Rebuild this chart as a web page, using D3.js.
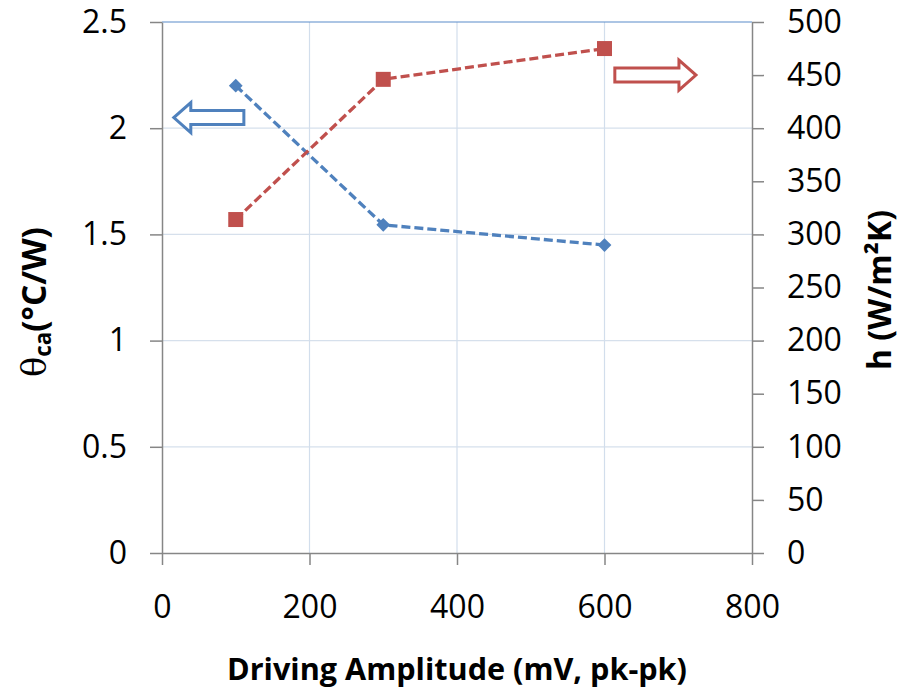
<!DOCTYPE html>
<html><head><meta charset="utf-8">
<script src="https://cdn.jsdelivr.net/npm/d3@7"></script>
<style>
html,body{margin:0;padding:0;background:#fff;}
svg{display:block;}
text{font-family:"Open Sans",sans-serif;fill:#000;}
</style></head>
<body>
<script>
// ---- data ----
const amplitudes = [100, 300, 600];            // mV pk-pk
const thetaCa = [2.2, 1.545, 1.45];            // °C/W (left axis)
const hCoef = [314, 446, 475];                 // W/m²K (right axis)
const xTicks = [0, 200, 400, 600, 800];
const yLeftTicks = [0, 0.5, 1, 1.5, 2, 2.5];
const yRightTicks = [0, 50, 100, 150, 200, 250, 300, 350, 400, 450, 500];
// arrow annotations in data units: [tailX, tipX, value]
const leftArrow = [111, 16, 2.05];
const rightArrow = [614, 724, 450];

const W = 908, H = 689;
const m = {l:162, r:752, t:22, b:553};
const blue = "#4F81BD", red = "#C0504D";

const svg = d3.select("body").append("svg").attr("width", W).attr("height", H);

const x = d3.scaleLinear().domain([0, 800]).range([m.l, m.r]);
const yL = d3.scaleLinear().domain([0, 2.5]).range([m.b, m.t]);
const yR = d3.scaleLinear().domain([0, 500]).range([m.b, m.t]);

// gridlines
const grid = svg.append("g");
grid.selectAll(".hg").data(yLeftTicks.filter(d => d > 0 && d < 2.5)).enter().append("line")
  .attr("x1", m.l).attr("x2", m.r).attr("y1", d => yL(d)).attr("y2", d => yL(d))
  .attr("stroke", "#d6e0ec").attr("stroke-width", 1.2);
grid.selectAll(".vg").data(xTicks.filter(d => d > 0 && d < 800)).enter().append("line")
  .attr("y1", m.t).attr("y2", m.b).attr("x1", d => x(d)).attr("x2", d => x(d))
  .attr("stroke", "#d2deec").attr("stroke-width", 1.2);
grid.append("line").attr("x1", m.l).attr("x2", m.r).attr("y1", yL(2.5)).attr("y2", yL(2.5))
  .attr("stroke", "#5b8cc9").attr("stroke-width", 1.2);

// axes
const fs = 32;
function styleAxis(g){
  g.select(".domain").attr("stroke", "#868686").attr("stroke-width", 1.5);
  g.selectAll(".tick line").attr("stroke", "#868686").attr("stroke-width", 1.5);
  g.selectAll(".tick text").attr("font-size", fs).attr("fill", "#000")
    .attr("font-family", "'Open Sans',sans-serif");
}
const axL = svg.append("g").attr("transform", `translate(${m.l},0)`)
  .call(d3.axisLeft(yL).tickValues(yLeftTicks).tickSize(12).tickPadding(23).tickSizeOuter(0)
    .tickFormat(d => String(d)));
styleAxis(axL);
const axR = svg.append("g").attr("transform", `translate(${m.r},0)`)
  .call(d3.axisRight(yR).tickValues(yRightTicks).tickSize(12).tickPadding(23).tickSizeOuter(0)
    .tickFormat(d => String(d)));
styleAxis(axR);
const axB = svg.append("g").attr("transform", `translate(0,${m.b})`)
  .call(d3.axisBottom(x).tickValues(xTicks).tickSize(12).tickPadding(30).tickSizeOuter(0)
    .tickFormat(d => String(d)));
styleAxis(axB);
axB.selectAll(".tick text").attr("dy", "0.71em");

// series
const lineL = d3.line().x((d, i) => x(amplitudes[i])).y(d => yL(d));
const lineR = d3.line().x((d, i) => x(amplitudes[i])).y(d => yR(d));
svg.append("path").attr("d", lineL(thetaCa)).attr("fill", "none").attr("stroke", blue)
  .attr("stroke-width", 3.3).attr("stroke-dasharray", "9,4");
svg.append("path").attr("d", lineR(hCoef)).attr("fill", "none").attr("stroke", red)
  .attr("stroke-width", 3.3).attr("stroke-dasharray", "9,4");
svg.selectAll(".dia").data(thetaCa).enter().append("path")
  .attr("d", d3.symbol().type(d3.symbolSquare).size(95))
  .attr("transform", (d, i) => `translate(${x(amplitudes[i])},${yL(d)}) rotate(45)`)
  .attr("fill", blue);
svg.selectAll(".sq").data(hCoef).enter().append("path")
  .attr("d", d3.symbol().type(d3.symbolSquare).size(225))
  .attr("transform", (d, i) => `translate(${x(amplitudes[i])},${yR(d)})`)
  .attr("fill", red);

// hollow arrows
function arrowPath(tail, tip, cy){
  const dir = Math.sign(tip - tail);
  const headLen = 17, bodyH = 7, headH = 15;
  const base = tip - dir * headLen;
  return `M${tail},${cy - bodyH} L${base},${cy - bodyH} L${base},${cy - headH} L${tip},${cy} ` +
         `L${base},${cy + headH} L${base},${cy + bodyH} L${tail},${cy + bodyH} Z`;
}
svg.append("path").attr("d", arrowPath(x(leftArrow[0]), x(leftArrow[1]), yL(leftArrow[2])))
  .attr("fill", "#fff").attr("stroke", blue).attr("stroke-width", 3).attr("stroke-linejoin", "miter");
svg.append("path").attr("d", arrowPath(x(rightArrow[0]), x(rightArrow[1]), yR(rightArrow[2])))
  .attr("fill", "#fff").attr("stroke", red).attr("stroke-width", 3).attr("stroke-linejoin", "miter");

// axis titles
function fitWidth(t, target){
  const w = t.node().getComputedTextLength();
  const f = parseFloat(t.attr("font-size"));
  t.attr("font-size", f * target / w);
}
const xt = svg.append("text").attr("x", (m.l + m.r) / 2).attr("y", 672)
  .attr("text-anchor", "middle").attr("dominant-baseline", "middle")
  .attr("font-weight", "bold").attr("font-size", 28).text("Driving Amplitude (mV, pk-pk)");
fitWidth(xt, 460);

const lt = svg.append("text").attr("transform", "translate(37,302) rotate(-90)")
  .attr("text-anchor", "middle").attr("dominant-baseline", "middle");
const ltParts = [
  {t:"θ", f:33, fam:"'DejaVu Serif',serif", w:"normal", dy:0},
  {t:"ca", f:22, fam:"'Open Sans',sans-serif", w:"bold", dy:8},
  {t:"(°C/W)", f:33, fam:"'Open Sans',sans-serif", w:"bold", dy:-8}
];
lt.selectAll("tspan").data(ltParts).enter().append("tspan")
  .attr("font-family", d => d.fam).attr("font-size", d => d.f)
  .attr("font-weight", d => d.w).attr("dy", d => d.dy).text(d => d.t);
{
  const w = lt.node().getComputedTextLength();
  const k = 150 / w;
  lt.selectAll("tspan").attr("font-size", d => d.f * k).attr("dy", d => d.dy * k);
}

const rt = svg.append("text").attr("transform", "translate(882,290) rotate(-90)")
  .attr("text-anchor", "middle").attr("dominant-baseline", "middle")
  .attr("font-weight", "bold").attr("font-size", 28).text("h (W/m²K)");
fitWidth(rt, 160);
</script>
</body></html>
